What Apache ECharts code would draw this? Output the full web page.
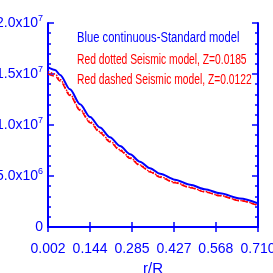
<!DOCTYPE html>
<html><head><meta charset="utf-8">
<script src="https://cdn.jsdelivr.net/npm/echarts@6/dist/echarts.min.js"></script>
<style>html,body{margin:0;padding:0;background:#fff}#c{width:273px;height:273px}</style>
</head><body><div id="c"></div>
<script>
var rValues = [0.002, 0.026, 0.043, 0.076, 0.110, 0.144, 0.177, 0.211, 0.245, 0.279, 0.312, 0.346, 0.380, 0.430, 0.481, 0.531, 0.582, 0.649, 0.710];
var standardModel = [1.564e7, 1.540e7, 1.490e7, 1.350e7, 1.203e7, 1.078e7, 0.975e7, 0.880e7, 0.793e7, 0.713e7, 0.640e7, 0.576e7, 0.522e7, 0.464e7, 0.414e7, 0.370e7, 0.330e7, 0.280e7, 0.232e7];
var seismicZ0185 = [1.524e7, 1.500e7, 1.445e7, 1.300e7, 1.153e7, 1.033e7, 0.935e7, 0.843e7, 0.758e7, 0.680e7, 0.609e7, 0.546e7, 0.494e7, 0.438e7, 0.390e7, 0.348e7, 0.309e7, 0.260e7, 0.213e7];
var seismicZ0122 = [1.499e7, 1.478e7, 1.430e7, 1.290e7, 1.143e7, 1.023e7, 0.925e7, 0.834e7, 0.750e7, 0.673e7, 0.602e7, 0.540e7, 0.488e7, 0.433e7, 0.386e7, 0.344e7, 0.306e7, 0.258e7, 0.211e7];
var xTicks = [0.002, 0.144, 0.285, 0.427, 0.568, 0.710];
var yTickValues = [0, 5e6, 1e7, 1.5e7, 2e7];
var yTickMantissa = ['0', '5.0', '1.0', '1.5', '2.0'];
var yTickExp = ['', '6', '7', '7', '7'];
var legendTexts = ['Blue continuous-Standard model', 'Red dotted Seismic model, Z=0.0185', 'Red dashed Seismic model, Z=0.0122'];

var BLUE = '#0000ff', RED = '#ff0000';
var FONT = '"Liberation Sans", Arial, sans-serif';
function pairs(ys){ return rValues.map(function(r,i){ return [r, ys[i]]; }); }
var chart = echarts.init(document.getElementById('c'), null, {renderer:'canvas'});
var axisLine = {show:true, lineStyle:{color:BLUE, width:2}};
var xBase = {type:'value', min:0.002, max:0.710, splitLine:{show:false}, axisLine:axisLine,
  axisTick:{show:true, inside:true, length:5, lineStyle:{color:BLUE, width:1.5}, customValues:xTicks}};
var yBase = {type:'value', min:0, max:2e7, interval:5e6, splitLine:{show:false}, axisLine:axisLine,
  axisTick:{show:true, inside:true, length:6, lineStyle:{color:BLUE, width:1.5}},
  minorTick:{show:true, splitNumber:5, length:3, lineStyle:{color:BLUE, width:1.5}}};
chart.setOption({
  animation:false,
  grid:{left:48, right:15, top:23, bottom:46, containLabel:false, outerBoundsMode:'none'},
  xAxis:[
    Object.assign({}, xBase, {position:'bottom', name:'r/R', nameLocation:'middle', nameGap:34,
      nameTextStyle:{color:BLUE, fontSize:15, fontFamily:FONT},
      axisLabel:{show:true, customValues:xTicks, color:BLUE, fontSize:14, fontFamily:FONT, margin:15,
        hideOverlap:false, showMinLabel:true, showMaxLabel:true,
        formatter:function(v){ return v.toFixed(3); }}}),
    Object.assign({}, xBase, {position:'top', axisLabel:{show:false}})
  ],
  yAxis:[
    Object.assign({}, yBase, {position:'left', axisLabel:{show:true, color:BLUE, margin:5, fontSize:14,
      fontFamily:FONT, hideOverlap:false, showMinLabel:true, showMaxLabel:true,
      formatter:function(v){ var i = yTickValues.indexOf(v); if(i<0) return '';
        return yTickExp[i] ? yTickMantissa[i] + 'x10{s|' + yTickExp[i] + '}' : yTickMantissa[i]; },
      rich:{s:{fontSize:9, verticalAlign:'top', color:BLUE, fontFamily:FONT, padding:[0,0,8,0]}}}}),
    Object.assign({}, yBase, {position:'right', axisLabel:{show:false}})
  ],
  graphic:[
    {type:'text', x:77, y:31, scaleX:0.80, style:{text:legendTexts[0], fill:BLUE, font:'14px ' + FONT}},
    {type:'text', x:77, y:53, scaleX:0.735, style:{text:legendTexts[1], fill:RED, font:'14px ' + FONT}},
    {type:'text', x:77, y:73, scaleX:0.735, style:{text:legendTexts[2], fill:RED, font:'14px ' + FONT}}
  ],
  series:[
    {type:'line', data:pairs(seismicZ0122), smooth:0.3, smoothMonotone:'x', showSymbol:false, lineStyle:{color:RED, width:1.5, type:'dashed'}},
    {type:'line', data:pairs(seismicZ0185), smooth:0.3, smoothMonotone:'x', showSymbol:false, lineStyle:{color:RED, width:1.5, type:'dotted'}},
    {type:'line', data:pairs(standardModel), smooth:0.3, smoothMonotone:'x', showSymbol:false, lineStyle:{color:BLUE, width:2}}
  ]
});
</script></body></html>
